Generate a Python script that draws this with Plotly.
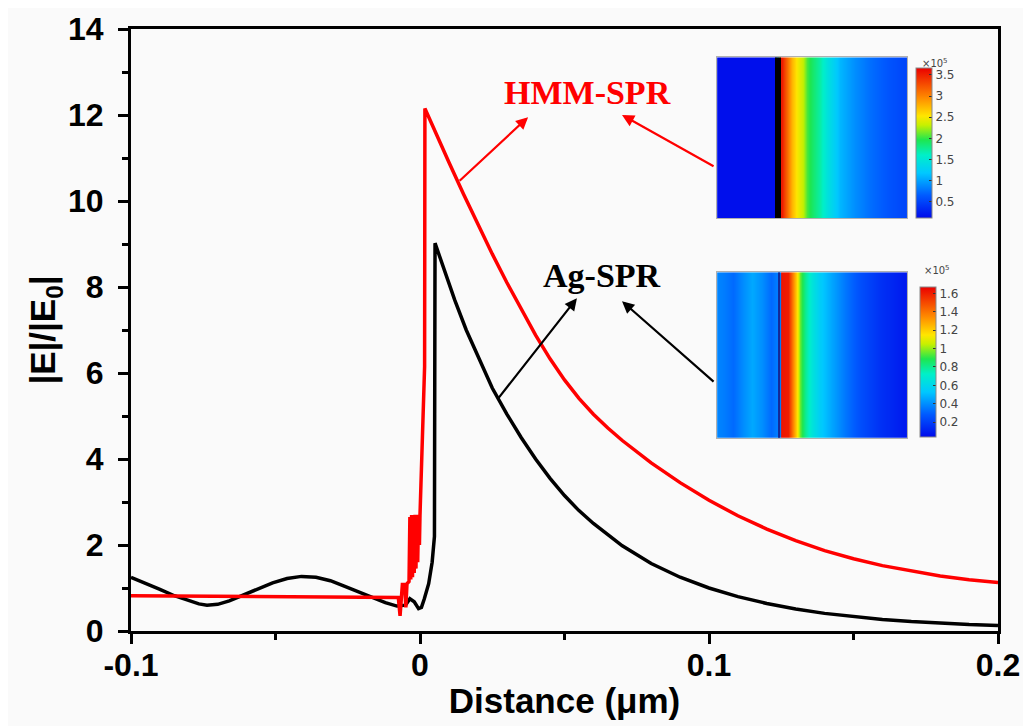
import plotly.graph_objects as go

# ---------------- main curves ----------------
ag_x = [-0.1, -0.095, -0.09, -0.085, -0.08, -0.0765, -0.0737, -0.07, -0.066, -0.061,
        -0.056, -0.051, -0.046, -0.041, -0.036, -0.031, -0.026, -0.021, -0.016, -0.012,
        -0.008, -0.005, -0.0035, -0.002, -0.0005, 0.0005, 0.0015, 0.003, 0.0042, 0.005,
        0.0052, 0.008, 0.012, 0.016, 0.02, 0.025, 0.03, 0.035, 0.04, 0.045,
        0.05, 0.055, 0.06, 0.07, 0.08, 0.09, 0.1, 0.11, 0.12, 0.13,
        0.14, 0.15, 0.16, 0.17, 0.18, 0.19, 0.2]
ag_y = [1.25, 1.12, 0.97, 0.82, 0.7, 0.63, 0.6, 0.62, 0.7, 0.84,
        0.99, 1.12, 1.22, 1.27, 1.25, 1.17, 1.04, 0.9, 0.77, 0.66,
        0.58, 0.6, 0.75, 0.68, 0.52, 0.55, 0.75, 1.1, 1.6, 2.2,
        9.02, 8.45, 7.7, 7.0, 6.38, 5.65, 5.05, 4.5, 4.0, 3.55,
        3.15, 2.8, 2.5, 1.98, 1.57, 1.25, 1.0, 0.8, 0.64, 0.51,
        0.41, 0.33, 0.27, 0.22, 0.18, 0.15, 0.13]

hmm_x = [-0.1, -0.06, -0.03, -0.0075, -0.0069, -0.0065, -0.0061, -0.0053, -0.0049, -0.0045,
         -0.0038, -0.0035, -0.0032, -0.0029, -0.0026, -0.0023, -0.002, -0.0017, -0.0014, -0.0011,
         -0.0008, -0.0005, -0.0002, 0.0, 0.0016, 0.0017, 0.005, 0.01, 0.015, 0.02,
         0.025, 0.03, 0.035, 0.04, 0.045, 0.05, 0.055, 0.06, 0.065, 0.07,
         0.08, 0.09, 0.1, 0.11, 0.12, 0.13, 0.14, 0.15, 0.16, 0.17,
         0.18, 0.19, 0.2]
hmm_y = [0.82, 0.81, 0.8, 0.78, 0.35, 0.9, 1.08, 1.08, 0.55, 1.1,
         1.15, 2.65, 1.2, 2.7, 1.25, 2.65, 1.35, 2.7, 1.45, 2.65,
         1.6, 2.7, 2.0, 2.7, 6.16, 12.15, 11.64, 10.9, 10.17, 9.46,
         8.77, 8.11, 7.48, 6.88, 6.33, 5.84, 5.41, 5.04, 4.72, 4.43,
         3.91, 3.45, 3.04, 2.68, 2.37, 2.1, 1.87, 1.68, 1.52, 1.39,
         1.28, 1.19, 1.13]

x_ticks = [-0.1, 0, 0.1, 0.2]
x_ticktext = ["-0.1", "0", "0.1", "0.2"]
x_minor = [-0.05, 0.05, 0.15]
y_ticks = [0, 2, 4, 6, 8, 10, 12, 14]
y_minor = [1, 3, 5, 7, 9, 11, 13]

# ---------------- inset field profiles (x1e5) ----------------
top_pos = [0.0, 0.305, 0.337, 0.353, 0.374, 0.395, 0.421, 0.453, 0.474, 0.5,
           0.542, 0.579, 0.647, 0.726, 0.805, 0.911, 1.0]
top_val = [0.15, 0.15, 3.6, 3.35, 3.05, 2.75, 2.5, 2.3, 2.05, 1.9,
           1.7, 1.45, 1.1, 0.9, 0.75, 0.6, 0.5]
top_ticks = [0.5, 1, 1.5, 2, 2.5, 3, 3.5]
top_range = [0.12, 3.67]
top_metal = [0.305, 0.337]   # black metal layer edges (fraction of inset width)

bot_pos = [0.0, 0.037, 0.084, 0.137, 0.184, 0.237, 0.284, 0.311, 0.33, 0.337,
           0.374, 0.389, 0.405, 0.421, 0.437, 0.463, 0.5, 0.542, 0.605, 0.674,
           0.753, 0.858, 1.0]
bot_val = [0.38, 0.36, 0.32, 0.4, 0.46, 0.4, 0.32, 0.36, 0.36, 1.62,
           1.6, 1.45, 1.3, 1.15, 0.95, 0.8, 0.66, 0.55, 0.45, 0.35,
           0.25, 0.16, 0.08]
bot_ticks = [0.2, 0.4, 0.6, 0.8, 1, 1.2, 1.4, 1.6]
bot_range = [0.04, 1.67]
bot_metal = [0.321, 0.329]

rainbow = [[0.0, "rgb(0,10,235)"], [0.15, "rgb(0,90,255)"], [0.3, "rgb(0,200,255)"],
           [0.42, "rgb(0,240,200)"], [0.52, "rgb(30,230,80)"], [0.62, "rgb(200,240,0)"],
           [0.68, "rgb(255,230,0)"], [0.8, "rgb(255,140,0)"], [1.0, "rgb(235,0,0)"]]

fig = go.Figure()

fig.add_trace(go.Scatter(x=ag_x, y=ag_y, mode="lines", name="Ag-SPR",
                         line=dict(color="black", width=3.5), showlegend=False))
fig.add_trace(go.Scatter(x=hmm_x, y=hmm_y, mode="lines", name="HMM-SPR",
                         line=dict(color="rgb(255,0,0)", width=3.5), showlegend=False))


def add_inset(pos, val, crange, ticks, metal, metal_color, xa, ya, cb_x, cb_y):
    fig.add_trace(go.Heatmap(
        x=pos, y=[0, 1], z=[val, val], colorscale=rainbow, zmin=crange[0], zmax=crange[1],
        zsmooth="best", xaxis=xa, yaxis=ya, hoverinfo="skip",
        colorbar=dict(x=cb_x, xanchor="left", y=cb_y, yanchor="middle",
                      len=150, lenmode="pixels", thickness=16, xpad=0, ypad=0,
                      tickvals=ticks, ticktext=[f"{t:g}" for t in ticks],
                      ticks="inside", ticklen=3, tickcolor="#333",
                      tickfont=dict(family="DejaVu Sans", size=12, color="#444"),
                      outlinewidth=1, outlinecolor="#888")))
    fig.add_trace(go.Heatmap(
        x0=(metal[0] + metal[1]) / 2, dx=metal[1] - metal[0], y=[0, 1], z=[[1], [1]],
        colorscale=[[0, metal_color], [1, metal_color]], zmin=0, zmax=1,
        showscale=False, xaxis=xa, yaxis=ya, hoverinfo="skip"))


add_inset(top_pos, top_val, top_range, top_ticks, top_metal, "black", "x2", "y2", 0.905, 0.811)
add_inset(bot_pos, bot_val, bot_range, bot_ticks, bot_metal, "rgb(20,40,150)", "x3", "y3", 0.910, 0.447)

tick_font = dict(family="Liberation Sans, Arial", size=32, color="black", weight="bold")
title_font = dict(family="Liberation Sans, Arial", size=35, color="black", weight="bold")
inset_ax = dict(range=[0, 1], showline=True, mirror=True, linecolor="#b0b0b0", linewidth=1,
                showticklabels=False, ticks="", showgrid=False, zeroline=False, automargin=False)
inset_ay = dict(range=[-0.5, 1.5], showline=True, mirror=True, linecolor="#b0b0b0", linewidth=1,
                showticklabels=False, ticks="", showgrid=False, zeroline=False, automargin=False)

# page body has an 8px margin, so the figure is 8px smaller and offsets compensate
fig.update_layout(
    width=1023, height=718,
    margin=dict(l=123, r=33, t=21, b=95, autoexpand=False),
    paper_bgcolor="#fafafa", plot_bgcolor="#fafafa",
    showlegend=False,
    xaxis=dict(range=[-0.1, 0.2], tickvals=x_ticks, ticktext=x_ticktext, automargin=False,
               ticks="outside", ticklen=10, tickwidth=3, tickcolor="black",
               minor=dict(tickvals=x_minor, ticks="outside", ticklen=6,
                          tickwidth=3, tickcolor="black"),
               showline=True, linewidth=3, linecolor="black", mirror=True,
               showgrid=False, zeroline=False, tickfont=tick_font, ticklabelstandoff=-6,
               title=dict(text="Distance (\u03bcm)", font=title_font, standoff=7)),
    yaxis=dict(range=[0, 14], tickvals=y_ticks, automargin=False,
               ticks="outside", ticklen=10, tickwidth=3, tickcolor="black",
               minor=dict(tickvals=y_minor, ticks="outside", ticklen=6,
                          tickwidth=3, tickcolor="black"),
               showline=True, linewidth=3, linecolor="black", mirror=True,
               showgrid=False, zeroline=False, tickfont=tick_font, ticklabelstandoff=8,
               title=dict(text="|E|/|E<sub>0</sub>|", font=title_font, standoff=2)),
    xaxis2=dict(domain=[0.676, 0.895], anchor="y2", **inset_ax),
    yaxis2=dict(domain=[0.686, 0.953], anchor="x2", **inset_ay),
    xaxis3=dict(domain=[0.676, 0.895], anchor="y3", **inset_ax),
    yaxis3=dict(domain=[0.321, 0.596], anchor="x3", **inset_ay),
)

label_font = dict(family="Liberation Serif, Times New Roman", size=34, weight="bold")
fig.add_annotation(x=0.0581, y=12.53, xref="x", yref="y", text="HMM-SPR", showarrow=False,
                   font=dict(color="rgb(255,0,0)", **label_font))
fig.add_annotation(x=0.0630, y=8.26, xref="x", yref="y", text="Ag-SPR", showarrow=False,
                   font=dict(color="black", **label_font))

arrows = [
    # (head_x, head_y, tail_x, tail_y, color)
    (0.0374, 11.95, 0.0132, 10.44, "rgb(255,0,0)"),
    (0.0699, 12.0, 0.1021, 10.79, "rgb(255,0,0)"),
    (0.0543, 7.74, 0.0266, 5.37, "black"),
    (0.0699, 7.67, 0.1021, 5.77, "black"),
]
for hx, hy, tx, ty, c in arrows:
    fig.add_annotation(x=hx, y=hy, ax=tx, ay=ty, xref="x", yref="y", axref="x", ayref="y",
                       text="", showarrow=True, arrowhead=2, arrowsize=1.1, arrowwidth=2.2,
                       arrowcolor=c)

small = dict(family="DejaVu Sans", size=10, color="#444")
fig.add_annotation(x=(950 - 131) / 867, y=(631 - 55) / 602, xref="paper", yref="paper",
                   text="\u00d710<sup>5</sup>", showarrow=False, font=small)
fig.add_annotation(x=(952 - 131) / 867, y=(631 - 270) / 602, xref="paper", yref="paper",
                   text="\u00d710<sup>5</sup>", showarrow=False, font=small)

fig.write_html("out.html")
